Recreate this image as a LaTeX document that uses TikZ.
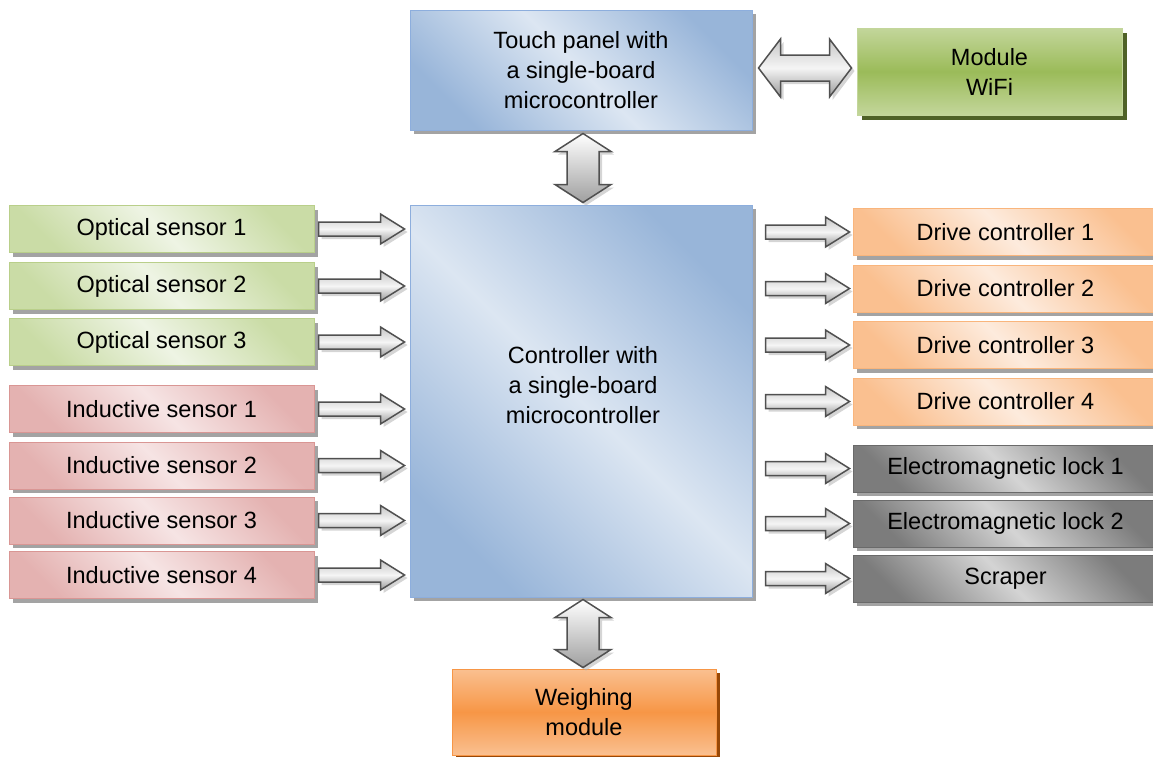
\documentclass[tikz,border=0pt]{standalone}
\usepackage{fontspec}
\setmainfont{Liberation Sans}
\usetikzlibrary{calc,shadows}

\definecolor{bluelt}{HTML}{DCE6F2}
\definecolor{bluedk}{HTML}{98B5D9}
\definecolor{blueln}{HTML}{8DAEDD}
\definecolor{greenlt}{HTML}{EEF4E4}
\definecolor{greendk}{HTML}{CADCA6}
\definecolor{greenln}{HTML}{B9CF8A}
\definecolor{redlt}{HTML}{F6E4E4}
\definecolor{reddk}{HTML}{E4B2B1}
\definecolor{redln}{HTML}{D99694}
\definecolor{orglt}{HTML}{FDEBDD}
\definecolor{orgdk}{HTML}{FAC090}
\definecolor{orgln}{HTML}{F9B57C}
\definecolor{graylt}{HTML}{D4D4D4}
\definecolor{graydk}{HTML}{7C7C7C}
\definecolor{grayln}{HTML}{6A6A6A}
\definecolor{wifitop}{HTML}{C3D69B}
\definecolor{wifimid}{HTML}{9BBB59}
\definecolor{wifishd}{HTML}{4F6228}
\definecolor{wtop}{HTML}{FAC090}
\definecolor{wmid}{HTML}{F79646}
\definecolor{wshd}{HTML}{984807}
\definecolor{arrowln}{HTML}{505050}

\tikzset{
  box/.style={draw, line width=1pt, inner sep=0pt, align=center,
    font=\fontsize{23.5}{30}\selectfont},
  grayshadow/.style={drop shadow={shadow xshift=4pt, shadow yshift=-4pt,
    fill=black!45, opacity=.8}},
  bluebox/.style={box, grayshadow, draw=blueln,
    top color=bluedk, bottom color=bluedk, middle color=bluelt, shading angle=-45},
  greenbox/.style={box, grayshadow, draw=greenln,
    top color=greendk, bottom color=greendk, middle color=greenlt, shading angle=-45},
  redbox/.style={box, grayshadow, draw=redln,
    top color=reddk, bottom color=reddk, middle color=redlt, shading angle=-45},
  orgbox/.style={box, grayshadow, draw=orgln,
    top color=orgdk, bottom color=orgdk, middle color=orglt, shading angle=-45},
  graybox/.style={box, grayshadow, draw=grayln,
    top color=graydk, bottom color=graydk, middle color=graylt, shading angle=-45},
  wifibox/.style={box, draw=wifitop,
    drop shadow={shadow xshift=5pt, shadow yshift=-5pt, fill=wifishd, opacity=1},
    top color=wifitop, bottom color=wifitop, middle color=wifimid},
  weighbox/.style={box, draw=wmid,
    drop shadow={shadow xshift=4pt, shadow yshift=-4pt, fill=wshd, opacity=1},
    top color=wtop, bottom color=wtop, middle color=wmid},
  sidebox/.style={minimum width=305pt, minimum height=47pt},
  fatarrow/.style={draw=arrowln, line width=1.5pt, line join=miter,
    top color=gray!45, bottom color=gray!80, middle color=gray!8,
    drop shadow={shadow xshift=3pt, shadow yshift=-3pt, fill=black!30, opacity=.55}},
}

% single block arrow pointing right, from #1 to its tip #2
\newcommand{\rightfat}[2]{%
  \path[fatarrow] let \p1=(#1), \p2=(#2) in
    (\x1,\y2+7pt) -- (\x2-24pt,\y2+7pt) -- (\x2-24pt,\y2+15pt) -- (\x2,\y2)
    -- (\x2-24pt,\y2-15pt) -- (\x2-24pt,\y2-7pt) -- (\x1,\y2-7pt) -- cycle;}

% vertical double block arrow, upper tip #1, lower tip #2
\newcommand{\vertfat}[2]{%
  \path[fatarrow, top color=white, bottom color=gray!75] let \p1=(#1), \p2=(#2) in
    (\x1,\y1) -- (\x1+28pt,\y1-18pt) -- (\x1+16pt,\y1-18pt) -- (\x1+16pt,\y2+18pt)
    -- (\x1+28pt,\y2+18pt) -- (\x1,\y2) -- (\x1-28pt,\y2+18pt) -- (\x1-16pt,\y2+18pt)
    -- (\x1-16pt,\y1-18pt) -- (\x1-28pt,\y1-18pt) -- cycle;}

% horizontal double block arrow, left tip #1, right tip #2
\newcommand{\horizfat}[2]{%
  \path[fatarrow] let \p1=(#1), \p2=(#2) in
    (\x1,\y1) -- (\x1+22pt,\y1+29pt) -- (\x1+22pt,\y1+13pt) -- (\x2-22pt,\y1+13pt)
    -- (\x2-22pt,\y1+29pt) -- (\x2,\y1) -- (\x2-22pt,\y1-29pt) -- (\x2-22pt,\y1-13pt)
    -- (\x1+22pt,\y1-13pt) -- (\x1+22pt,\y1-29pt) -- cycle;}

\begin{document}
\begin{tikzpicture}[x=1pt, y=-1pt]
\useasboundingbox (0,0) rectangle (1153,756);

% central units
\node[bluebox, minimum width=342pt, minimum height=120pt] (tp) at (581,70)
  {Touch panel with\\a single-board\\microcontroller};
\node[bluebox, minimum width=342pt, minimum height=392pt] (ctrl) at (581,401) {};
\node[font=\fontsize{23.5}{30}\selectfont, align=center] (ctrltxt) at (583,385)
  {Controller with\\a single-board\\microcontroller};
\node[wifibox, minimum width=265pt, minimum height=87pt] (wifi) at (989.5,71.5)
  {Module\\WiFi};
\node[weighbox, minimum width=264pt, minimum height=86pt] (weigh) at (584,712)
  {Weighing\\module};

% inputs
\node[greenbox, sidebox] (os1) at (161.5,229) {Optical sensor 1};
\node[greenbox, sidebox] (os2) at (161.5,286) {Optical sensor 2};
\node[greenbox, sidebox] (os3) at (161.5,342) {Optical sensor 3};
\node[redbox, sidebox] (is1) at (161.5,409) {Inductive sensor 1};
\node[redbox, sidebox] (is2) at (161.5,465.5) {Inductive sensor 2};
\node[redbox, sidebox] (is3) at (161.5,520.5) {Inductive sensor 3};
\node[redbox, sidebox] (is4) at (161.5,575) {Inductive sensor 4};

% outputs
\node[orgbox, sidebox] (dc1) at (1005.5,232) {Drive controller 1};
\node[orgbox, sidebox] (dc2) at (1005.5,288.5) {Drive controller 2};
\node[orgbox, sidebox] (dc3) at (1005.5,345) {Drive controller 3};
\node[orgbox, sidebox] (dc4) at (1005.5,401.5) {Drive controller 4};
\node[graybox, sidebox] (el1) at (1005.5,468.5) {Electromagnetic lock 1};
\node[graybox, sidebox] (el2) at (1005.5,523.5) {Electromagnetic lock 2};
\node[graybox, sidebox] (scr) at (1005.5,578.5) {Scraper};

% sensor arrows into the controller
\foreach \s in {os1,os2,os3,is1,is2,is3,is4}
  \rightfat{$(\s.east)+(4,0)$}{$(ctrl.west|-\s.east)+(-5,0)$};

% controller arrows to the actuators
\foreach \a in {dc1,dc2,dc3,dc4,el1,el2,scr}
  \rightfat{$(ctrl.east|-\a.west)+(13,0)$}{$(\a.west)+(-3,0)$};

% bidirectional links
\vertfat{$(tp.south)+(2,3)$}{$(ctrl.north)+(2,-2)$};
\vertfat{$(ctrl.south)+(2,2)$}{$(weigh.north)+(-1,-1)$};
\horizfat{$(tp.east)+(6,-2)$}{$(wifi.west)+(-5,0)$};
\end{tikzpicture}
\end{document}
